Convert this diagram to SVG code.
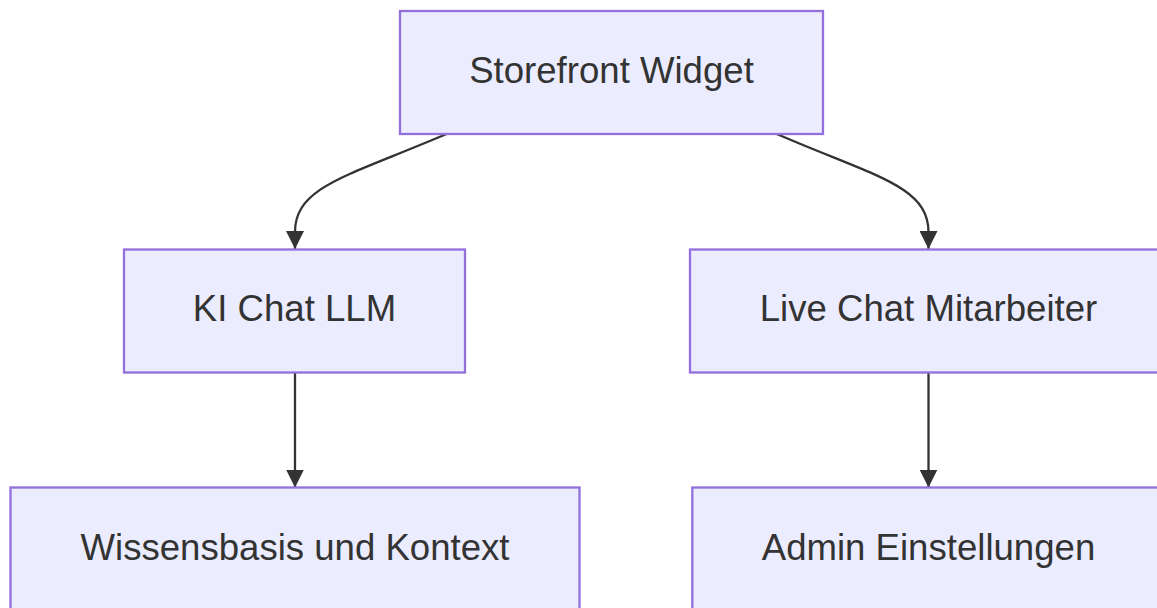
<svg xmlns="http://www.w3.org/2000/svg" width="1157" height="608" viewBox="0 0 1157 608">
  <style>
    .node rect { fill: #ECECFF; stroke: #9370DB; stroke-width: 2.3; }
    .node text { font-family: "Liberation Sans", Arial, sans-serif; font-size: 36.6px; fill: #333333; text-anchor: middle; }
    .edge { fill: none; stroke: #333333; stroke-width: 2.3; }
  </style>
  <defs>
    <marker id="arrow" viewBox="0 0 10 10" refX="10" refY="5" markerUnits="userSpaceOnUse" markerWidth="18" markerHeight="18" orient="auto">
      <path d="M0,0 L10,5 L0,10 z" fill="#333333" stroke="none"/>
    </marker>
  </defs>

  <!-- connectors -->
  <g id="connectors">
    <path class="edge" d="M446.7,134 L420,145 C340,178 295,190 295,232 L295,249" marker-end="url(#arrow)"/>
    <path class="edge" d="M776.7,134 L803,145 C883,178 928.5,190 928.5,232 L928.5,249" marker-end="url(#arrow)"/>
    <path class="edge" d="M295,372 L295,487.5" marker-end="url(#arrow)"/>
    <path class="edge" d="M928.5,373 L928.5,487.5" marker-end="url(#arrow)"/>
  </g>

  <!-- nodes -->
  <g id="storefront" class="node">
    <rect x="400" y="11" width="423" height="123"/>
    <text x="611.5" y="83">Storefront Widget</text>
  </g>
  <g id="ki-chat" class="node">
    <rect x="124" y="249.5" width="341" height="123"/>
    <text x="294.5" y="321">KI Chat LLM</text>
  </g>
  <g id="live-chat" class="node">
    <rect x="690" y="249.5" width="477" height="123"/>
    <text x="928.5" y="321">Live Chat Mitarbeiter</text>
  </g>
  <g id="wissensbasis" class="node">
    <rect x="10.5" y="487.5" width="569" height="123"/>
    <text x="295" y="559.5">Wissensbasis und Kontext</text>
  </g>
  <g id="admin" class="node">
    <rect x="692.3" y="487.5" width="472.4" height="123"/>
    <text x="928.5" y="559.5">Admin Einstellungen</text>
  </g>
</svg>
